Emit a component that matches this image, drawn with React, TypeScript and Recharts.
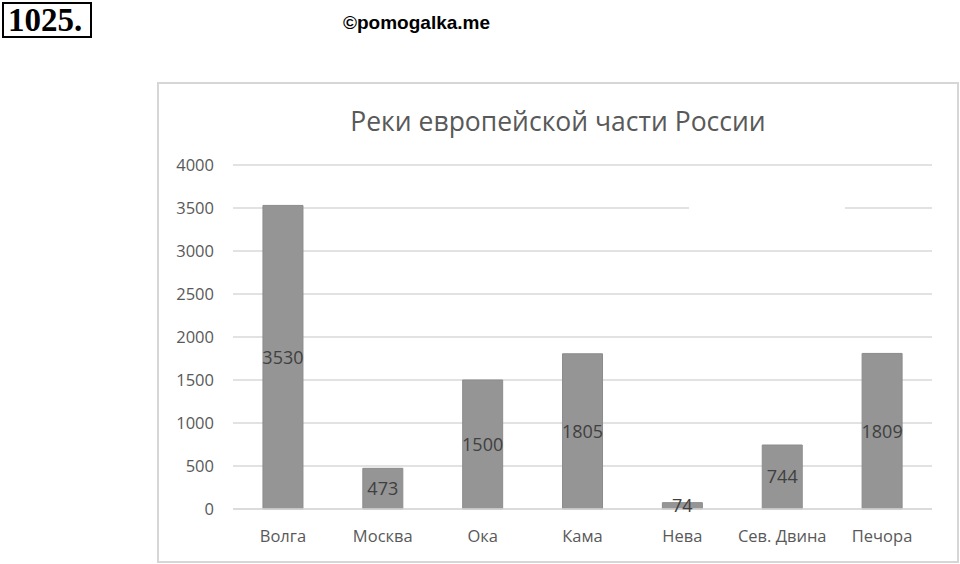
import { BarChart, Bar, XAxis, YAxis, CartesianGrid, LabelList } from "recharts";

const rivers = ["Волга", "Москва", "Ока", "Кама", "Нева", "Сев. Двина", "Печора"];
const lengths = [3530, 473, 1500, 1805, 74, 744, 1809];
const yTicks = [0, 500, 1000, 1500, 2000, 2500, 3000, 3500, 4000];

const data = rivers.map((name, i) => ({ name, length: lengths[i] }));

const FONT = "'Open Sans', 'Noto Sans', sans-serif";

export default function App() {
  return (
    <div style={{ position: "absolute", left: 0, top: 0, width: 960, height: 564, background: "#fff", overflow: "hidden" }}>
      <div
        style={{
          position: "absolute", left: 2, top: 2, width: 90, height: 36, boxSizing: "border-box",
          border: "2px solid #000", fontFamily: "'Liberation Serif', serif", fontWeight: "bold",
          fontSize: 33, lineHeight: "33px", paddingLeft: 4, color: "#000",
        }}
      >
        1025.
      </div>
      <div
        style={{
          position: "absolute", left: 343, top: 12, fontFamily: "'Liberation Sans', Arial, sans-serif",
          fontWeight: "bold", fontSize: 19, color: "#000",
        }}
      >
        ©pomogalka.me
      </div>

      <div
        style={{
          position: "absolute", left: 157, top: 82, width: 802, height: 481, boxSizing: "border-box",
          border: "2px solid #d6d6d6",
        }}
      />
      <div
        style={{
          position: "absolute", left: 158, top: 103, width: 800, textAlign: "center",
          fontFamily: FONT, fontSize: 26.5, color: "#595959",
        }}
      >
        Реки европейской части России
      </div>

      <div style={{ position: "absolute", left: 158, top: 83 }}>
        <BarChart width={800} height={479} data={data} margin={{ top: 82, right: 26, bottom: 23, left: 15 }} barCategoryGap="30%">
          <CartesianGrid vertical={false} stroke="#d9d9d9" strokeWidth={1.5} />
          <XAxis
            dataKey="name"
            axisLine={{ stroke: "#d9d9d9", strokeWidth: 1.5 }}
            tickLine={false}
            tickMargin={15}
            height={30}
            tick={{ fontSize: 16.5, fill: "#595959", fontFamily: FONT }}
          />
          <YAxis
            width={60}
            domain={[0, 4000]}
            ticks={yTicks}
            axisLine={false}
            tickLine={false}
            tickMargin={13}
            tick={{ fontSize: 16.5, fill: "#595959", fontFamily: FONT }}
          />
          <Bar dataKey="length" fill="#959595" stroke="#8c8c8c" strokeWidth={1} isAnimationActive={false}>
            <LabelList dataKey="length" position="center" fill="#404040" fontSize={18} fontFamily={FONT} />
          </Bar>
        </BarChart>
      </div>

      {/* erased piece of the 3500 gridline in the scan */}
      <div style={{ position: "absolute", left: 689, top: 204, width: 156, height: 8, background: "#fff" }} />
    </div>
  );
}
